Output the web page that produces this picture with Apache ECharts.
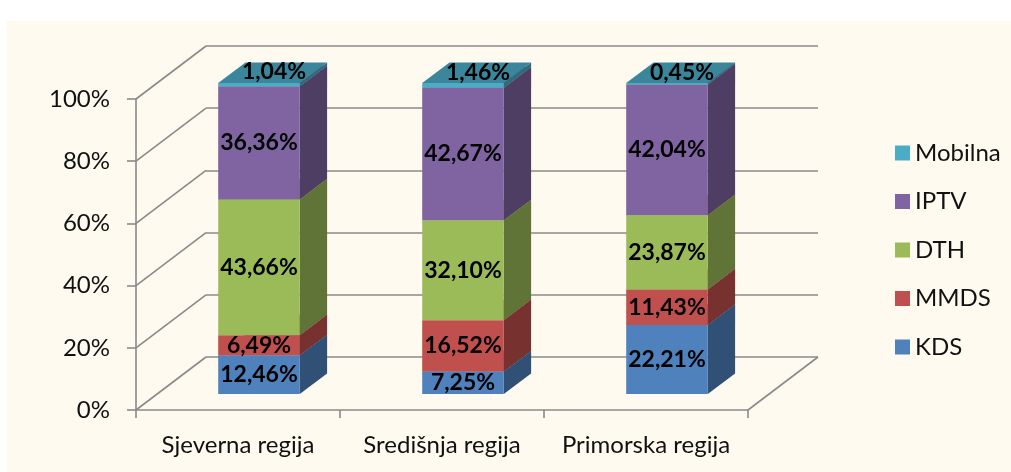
<!DOCTYPE html>
<html>
<head>
<meta charset="utf-8">
<title>Platforme po regijama</title>
<script src="https://cdn.jsdelivr.net/npm/echarts@6/dist/echarts.min.js"></script>
<style>
    html, body { margin: 0; padding: 0; background: #fff; }
    #main { width: 1011px; height: 472px; }
</style>
</head>
<body>
<div id="main"></div>
<script>
    // data
    var categories = ['Sjeverna regija', 'Središnja regija', 'Primorska regija'];
    var kds     = [12.46, 7.25, 22.21];
    var mmds    = [6.49, 16.52, 11.43];
    var dth     = [43.66, 32.10, 23.87];
    var iptv    = [36.36, 42.67, 42.04];
    var mobilna = [1.04, 1.46, 0.45];
    var yTicks  = [0, 20, 40, 60, 80, 100];

    var seriesDefs = [
        { name: 'KDS',     values: kds,     color: '#4F81BD' },
        { name: 'MMDS',    values: mmds,    color: '#C0504D' },
        { name: 'DTH',     values: dth,     color: '#9BBB59' },
        { name: 'IPTV',    values: iptv,    color: '#8064A2' },
        { name: 'Mobilna', values: mobilna, color: '#4BACC6' }
    ];

    // fake 3d: depth vector of the plot box, bars sit between these depths
    var DEPTH = [70, -53];
    var BAR_FRONT = 0.30, BAR_BACK = 0.69;
    var FRONT = { left: 136, top: 99, width: 612, height: 311 };
    var LINE = '#8a8a8a';
    var FONT = 'Lato';

    function shade(hex, k) {
        var n = parseInt(hex.slice(1), 16);
        var r = Math.round(((n >> 16) & 255) * k);
        var g = Math.round(((n >> 8) & 255) * k);
        var b = Math.round((n & 255) * k);
        return 'rgb(' + r + ',' + g + ',' + b + ')';
    }

    function fmt(v) {
        return v.toFixed(2).replace('.', ',') + '%';
    }

    function gridAt(depth) {
        return {
            left: FRONT.left + DEPTH[0] * depth,
            top: FRONT.top + DEPTH[1] * depth,
            width: FRONT.width,
            height: FRONT.height
        };
    }

    // side wall diagonals + right floor edge
    function renderWall(params, api) {
        var cs = params.coordSys;
        var y = api.coord([0, api.value(1)])[1];
        var lines = [{
            type: 'line',
            shape: { x1: cs.x, y1: y, x2: cs.x + DEPTH[0], y2: y + DEPTH[1] },
            style: { stroke: LINE, lineWidth: 1.6 }
        }];
        if (api.value(1) === 0) {
            lines.push({
                type: 'line',
                shape: { x1: cs.x + cs.width, y1: y, x2: cs.x + cs.width + DEPTH[0], y2: y + DEPTH[1] },
                style: { stroke: LINE, lineWidth: 1.6 }
            });
        }
        return { type: 'group', children: lines };
    }

    function makeBoxRenderer(def, isTop) {
        return function (params, api) {
            var cat = api.value(0);
            var p0 = api.coord([cat, api.value(1)]);
            var p1 = api.coord([cat, api.value(2)]);
            var w = api.size([1, 0])[0] * 0.4;
            var x0 = p0[0] - w / 2, x1 = p0[0] + w / 2;
            var dx = DEPTH[0] * (BAR_BACK - BAR_FRONT);
            var dy = DEPTH[1] * (BAR_BACK - BAR_FRONT);
            var lx = p0[0], ly = (p0[1] + p1[1]) / 2;
            if (isTop) { lx = p0[0] + 15; ly = p1[1] - 11; }
            return {
                type: 'group',
                children: [
                    { type: 'polygon', shape: { points: [[x1, p0[1]], [x1 + dx, p0[1] + dy], [x1 + dx, p1[1] + dy], [x1, p1[1]]] },
                      style: { fill: shade(def.color, 0.62) } },
                    { type: 'polygon', shape: { points: [[x0, p1[1]], [x1, p1[1]], [x1 + dx, p1[1] + dy], [x0 + dx, p1[1] + dy]] },
                      style: { fill: shade(def.color, 0.78) } },
                    { type: 'rect', shape: { x: x0, y: p1[1], width: w, height: p0[1] - p1[1] },
                      style: { fill: def.color } },
                    { type: 'text', x: lx, y: ly,
                      style: { text: fmt(api.value(3)), fill: '#000', font: 'bold 23px ' + FONT,
                               align: 'center', verticalAlign: 'middle' } }
                ]
            };
        };
    }

    var base = categories.map(function () { return 0; });
    var barSeries = seriesDefs.map(function (def, i) {
        var data = def.values.map(function (v, j) {
            var lo = base[j];
            base[j] += v;
            return [j, lo, lo + v, v];
        });
        return {
            name: def.name,
            type: 'custom',
            xAxisIndex: 2,
            yAxisIndex: 2,
            z: 3,
            itemStyle: { color: def.color },
            renderItem: makeBoxRenderer(def, i === seriesDefs.length - 1),
            data: data
        };
    });

    var myChart = echarts.init(document.getElementById('main'));

    var option = {
        animation: false,
        backgroundColor: '#fff',
        graphic: [{
            type: 'rect', left: 7, top: 21, z: -100, silent: true,
            shape: { width: 1004, height: 451 },
            style: { fill: '#FFFAF0' }
        }],
        legend: {
            data: ['Mobilna', 'IPTV', 'DTH', 'MMDS', 'KDS'],
            orient: 'vertical',
            left: 890,
            top: 136,
            icon: 'rect',
            itemWidth: 15,
            itemHeight: 15,
            itemGap: 24.5,
            textStyle: { fontFamily: FONT, fontSize: 24, color: '#111' }
        },
        grid: [gridAt(0), gridAt(1), gridAt(BAR_FRONT)],
        xAxis: [
            {
                gridIndex: 0, type: 'category', data: categories,
                axisLine: { lineStyle: { color: LINE, width: 1.6 } },
                axisTick: { show: true, length: 8, lineStyle: { color: LINE, width: 1.6 } },
                axisLabel: { interval: 0, fontFamily: FONT, fontSize: 24, color: '#111', margin: 23 }
            },
            { gridIndex: 1, type: 'category', data: categories, show: false },
            { gridIndex: 2, type: 'category', data: categories, show: false }
        ],
        yAxis: [
            {
                gridIndex: 0, type: 'value', min: 0, max: 100, interval: 20,
                axisLine: { show: true, lineStyle: { color: LINE, width: 1.6 } },
                axisTick: { show: true, length: 9, lineStyle: { color: LINE, width: 1.6 } },
                axisLabel: { formatter: '{value}%', fontFamily: FONT, fontSize: 24, color: '#111', margin: 26 },
                splitLine: { show: false }
            },
            {
                gridIndex: 1, type: 'value', min: 0, max: 100, interval: 20,
                axisLine: { show: false }, axisTick: { show: false }, axisLabel: { show: false },
                splitLine: { show: true, lineStyle: { color: LINE, width: 1.6 } }
            },
            { gridIndex: 2, type: 'value', min: 0, max: 100, interval: 20, show: false }
        ],
        series: [{
            type: 'custom',
            name: 'walls',
            xAxisIndex: 0,
            yAxisIndex: 0,
            z: 1,
            silent: true,
            renderItem: renderWall,
            data: yTicks.map(function (v) { return [0, v]; })
        }].concat(barSeries)
    };

    myChart.setOption(option);
</script>
</body>
</html>
